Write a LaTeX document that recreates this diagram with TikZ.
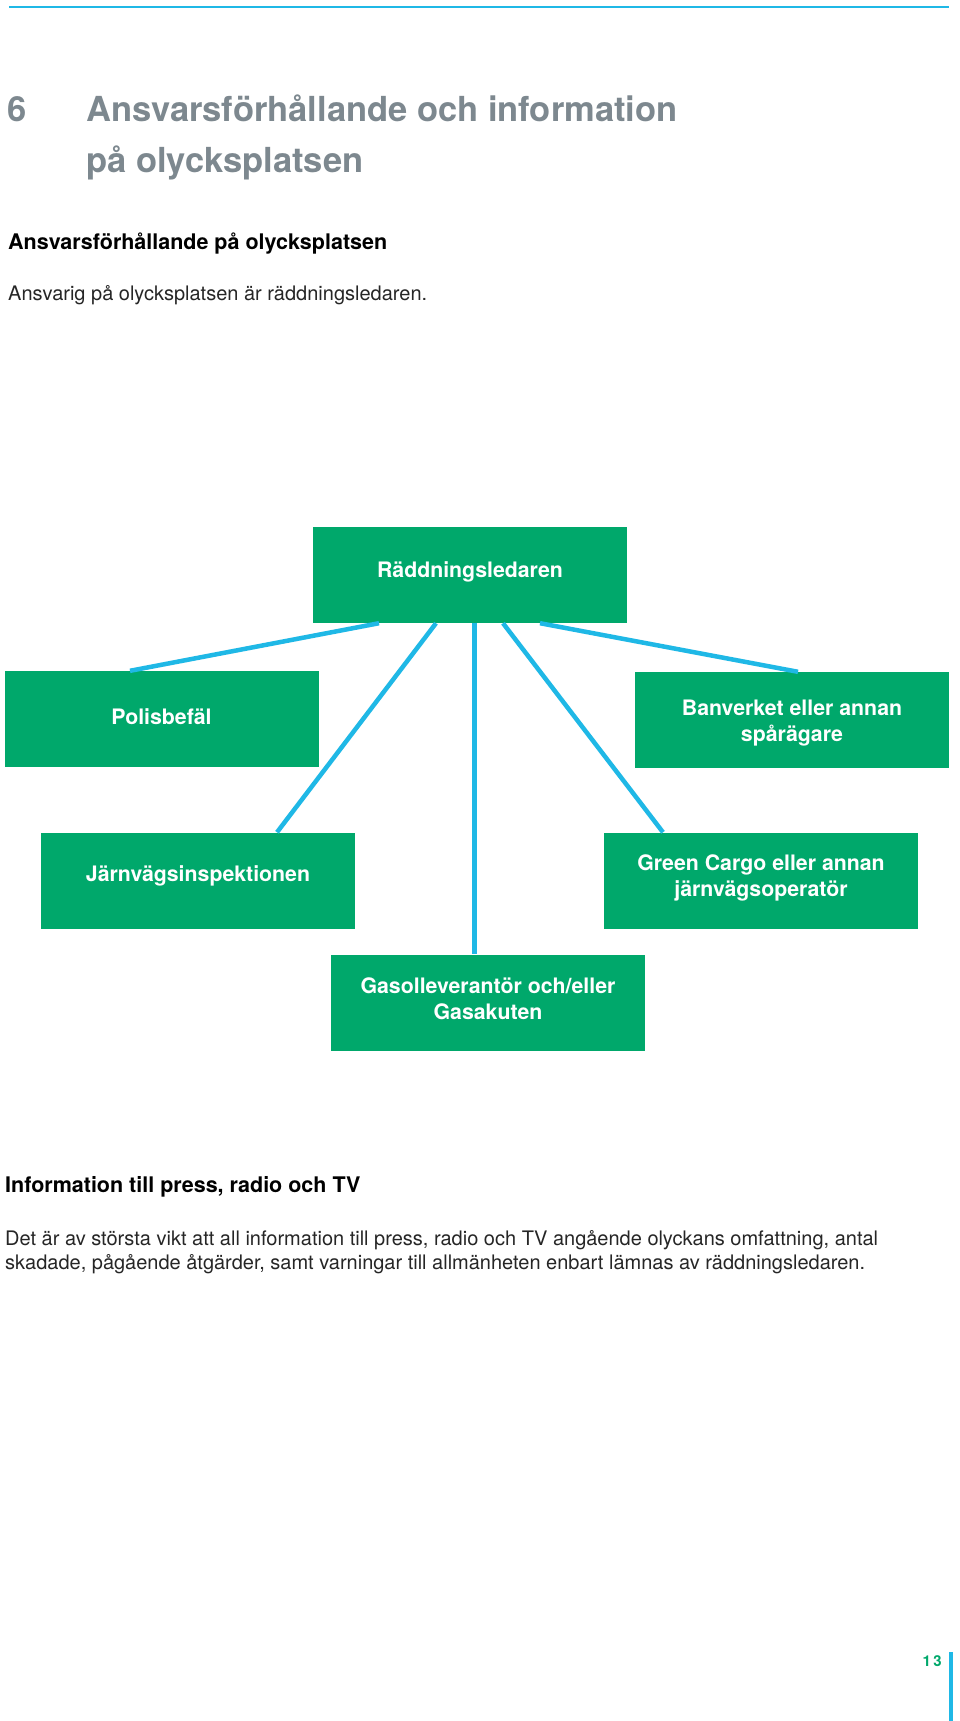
\documentclass[tikz,border=0pt]{standalone}
\usepackage{fontspec}
\setmainfont{TeX Gyre Heros}
\definecolor{boxgreen}{HTML}{00A86B}
\definecolor{linkblue}{HTML}{1FB8E6}
\definecolor{titlegray}{HTML}{7D888F}
\definecolor{bodygray}{HTML}{262626}
\begin{document}
\begin{tikzpicture}[x=1pt,y=-1pt,
  orgbox/.style={fill=boxgreen, draw=none, minimum width=314pt, minimum height=96pt, inner sep=0pt},
  boxlabel/.style={inner sep=0pt, text=white, font=\fontsize{21.3}{26}\selectfont\bfseries, align=center},
  link/.style={draw=linkblue, line width=4.5pt},
  titletext/.style={anchor=base west, inner sep=0pt, text=titlegray, font=\fontsize{34.5}{40}\selectfont\bfseries},
  headtext/.style={anchor=base west, inner sep=0pt, text=black, font=\fontsize{21.5}{26}\selectfont\bfseries},
  bodytext/.style={anchor=base west, inner sep=0pt, text=bodygray, font=\fontsize{20}{24}\selectfont}]
\useasboundingbox (0,0) rectangle (960,1721);
\fill[white] (0,0) rectangle (960,1721);
% top rule
\coordinate (rl) at (9,7);
\coordinate (rr) at (949,7);
\draw[linkblue, line width=1.5pt] (rl) -- (rr);
% title
\node[titletext] (num) at (7,121) {6};
\node[titletext] (t1) at (86,121) {Ansvarsförhållande och information};
\node[titletext] (t2) at (86,172) {på olycksplatsen};
\node[headtext] (h1) at (8,249) {Ansvarsförhållande på olycksplatsen};
\node[bodytext] (b1) at (8,300) {Ansvarig på olycksplatsen är räddningsledaren.};
% boxes
\node[orgbox] (rl0) at (470,575) {};
\node[orgbox] (pol) at (161.5,719) {};
\node[orgbox] (ban) at (792,720) {};
\node[orgbox] (jvi) at (198,880.5) {};
\node[orgbox] (gc) at (761,880.5) {};
\node[orgbox] (gas) at (488,1002.5) {};
% box labels
\node[boxlabel] (rl0t) at ([yshift=3.5pt]rl0.center) {Räddningsledaren};
\node[boxlabel] (polt) at ([yshift=2pt]pol.center) {Polisbefäl};
\node[boxlabel] (bant) at ([yshift=-3.5pt]ban.center) {Banverket eller annan\\spårägare};
\node[boxlabel] (jvit) at ([yshift=4.5pt]jvi.center) {Järnvägsinspektionen};
\node[boxlabel] (gct) at ([yshift=3pt]gc.center) {Green Cargo eller annan\\järnvägsoperatör};
\node[boxlabel] (gast) at ([yshift=4pt]gas.center) {Gasolleverantör och/eller\\Gasakuten};
% links
\draw[link] ([xshift=-91pt]rl0.south) -- ([xshift=-31.5pt]pol.north);
\draw[link] ([xshift=-34pt]rl0.south) -- ([xshift=79pt]jvi.north);
\draw[link] ([xshift=4.5pt]rl0.south) -- ([xshift=-13.5pt]gas.north);
\draw[link] ([xshift=33pt]rl0.south) -- ([xshift=-98pt]gc.north);
\draw[link] ([xshift=70pt]rl0.south) -- ([xshift=6pt]ban.north);
% lower text
\node[headtext] (h2) at (5,1192) {Information till press, radio och TV};
\node[bodytext] (b2) at (5,1245) {Det är av största vikt att all information till press, radio och TV angående olyckans omfattning, antal};
\node[bodytext] (b3) at (5,1269) {skadade, pågående åtgärder, samt varningar till allmänheten enbart lämnas av räddningsledaren.};
% page number
\node[anchor=base east, inner sep=0pt, text=boxgreen, font=\fontsize{15}{18}\selectfont\bfseries] (pg) at (942,1666) {1\,3};
\coordinate (pt) at (951,1652);
\coordinate (pb) at (951,1721);
\draw[linkblue, line width=4pt] (pt) -- (pb);
\end{tikzpicture}
\end{document}
